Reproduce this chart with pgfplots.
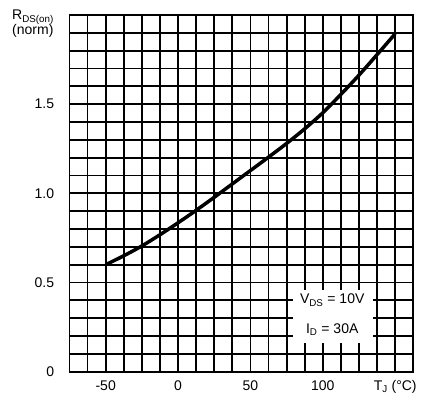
\documentclass[border=0pt]{standalone}
\usepackage{fontspec}
\setmainfont{Liberation Sans}
\usepackage{pgfplots}
\pgfplotsset{compat=1.18}
\begin{document}
\fontsize{14bp}{16bp}\selectfont
\begin{tikzpicture}
\begin{axis}[name=ax, at={(0,0)}, anchor=south west, scale only axis,
 width=343.8bp, height=356.7bp,
 xmin=-75, xmax=162.5, ymin=0, ymax=2,
 xtick={-50,0,50,100,150}, xticklabels={-50,0,50,100,{T\textsubscript{J} (°C)}},
 ytick={0,0.5,1.0,1.5}, yticklabels={0,0.5,1.0,1.5},
 minor xtick={-75,-62.5,...,162.5}, minor ytick={0,0.1,...,2.05},
 grid=both,
 major grid style={black, line width=1.8bp},
 minor grid style={black, line width=1.8bp},
 axis line style={line width=1.8bp},
 major tick length=0pt, minor tick length=0pt,
 tick label style={font=\fontsize{14bp}{16bp}\selectfont},
 xticklabel style={yshift=-4bp},
 yticklabel style={xshift=-10.5bp},
 clip=false,
]
\addplot[black, line width=3.5bp, smooth, tension=0.5] coordinates {
(-50,0.600) (-37.5,0.650) (-25,0.705) (-12.5,0.768) (0,0.835) (12.5,0.905)
(25,0.978) (37.5,1.053) (50,1.128) (62.5,1.203) (75,1.280) (87.5,1.362)
(100,1.452) (112.5,1.555) (125,1.663) (137.5,1.778) (150,1.895)
};
\fill[white] (axis cs:79.6,0.161) rectangle (axis cs:134.8,0.458);
\node[anchor=base, inner sep=0pt] at (axis cs:106.5,0.380) {V\textsubscript{DS} = 10V};
\node[anchor=base, inner sep=0pt] at (axis cs:106.5,0.215) {I\textsubscript{D} = 30A};
\end{axis}
\path (ax.south west) ++(-69.5bp,-27.3bp) rectangle ++(425bp,399bp);
\node[anchor=base west, inner sep=0pt] at ([shift={(-57.5bp,351.7bp)}]ax.south west) {R\textsubscript{DS(on)}};
\node[anchor=base west, inner sep=0pt] at ([shift={(-57.5bp,336.7bp)}]ax.south west) {(norm)};
\end{tikzpicture}
\end{document}
